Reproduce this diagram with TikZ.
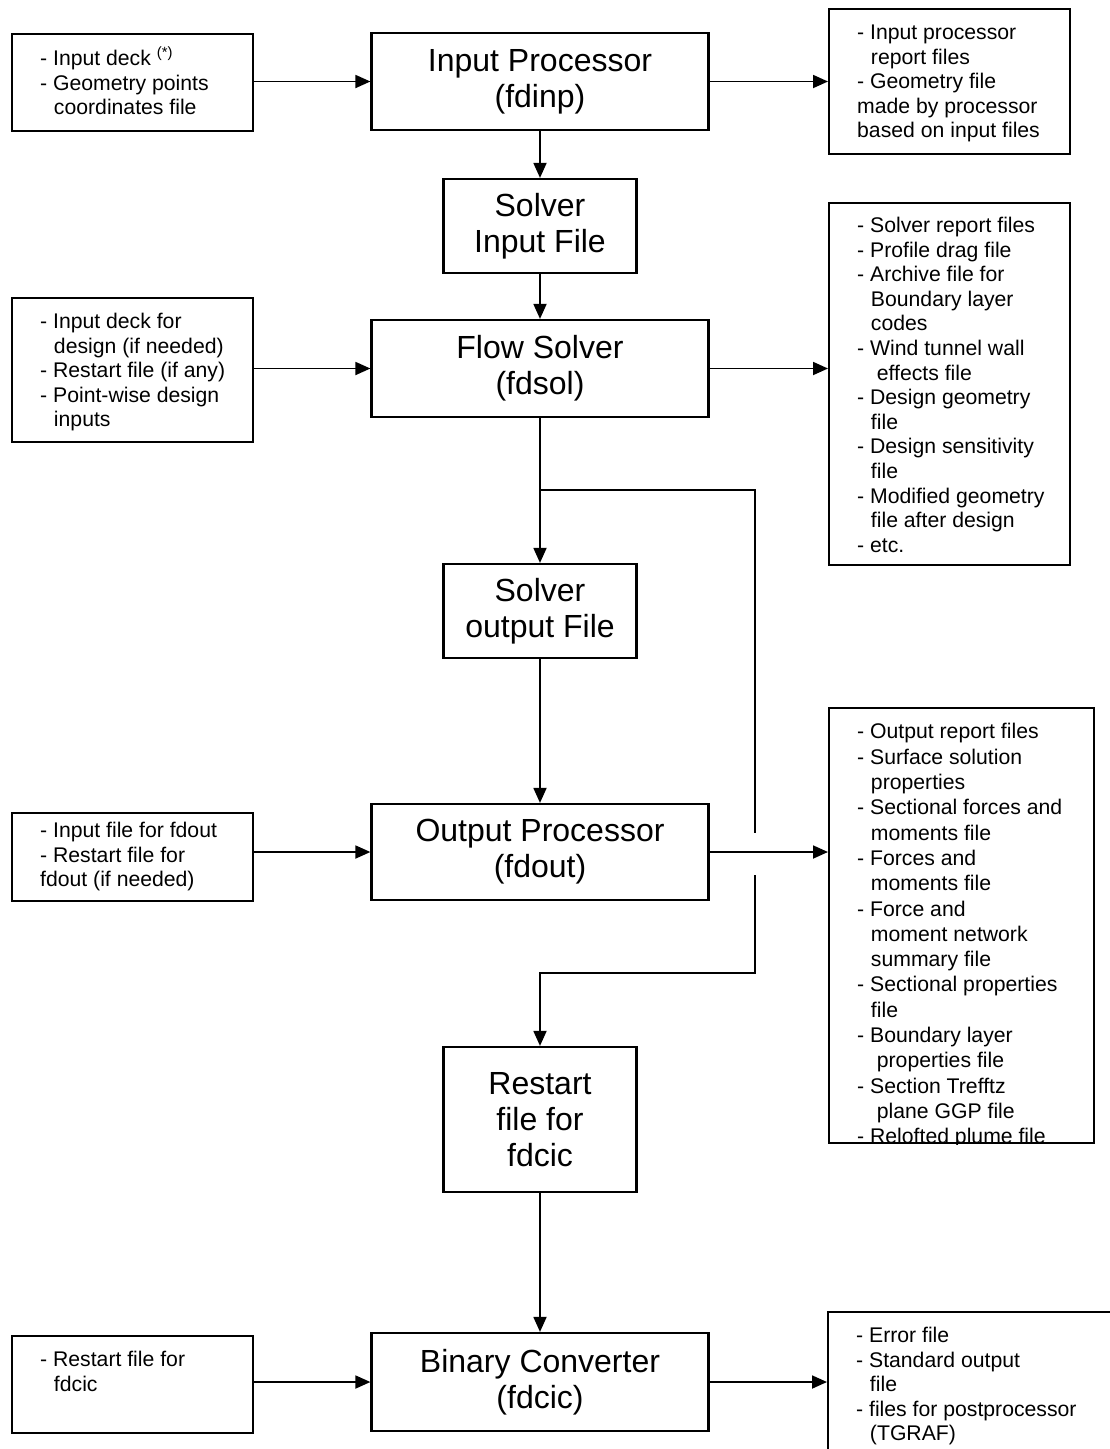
\documentclass[tikz,border=0pt]{standalone}
\usepackage{fontspec}
\setmainfont{Liberation Sans}
\usepackage{tikz}
\usetikzlibrary{arrows.meta}

\newcommand{\ind}{\hspace*{0.65em}}

\begin{document}
\begin{tikzpicture}[x=1pt,y=-1pt]
    \tikzstyle{every node}=[font=\fontsize{21.2}{24.6}\selectfont]
    \tikzstyle{mainbox}=[draw, line width=2.2pt, inner sep=0pt, align=center, font=\fontsize{32}{36}\selectfont]
    \tikzstyle{filebox}=[draw, line width=2.2pt, inner sep=0pt, anchor=north west]
    \tikzstyle{filetext}=[inner sep=0pt, anchor=north west, align=left]
    \tikzstyle{flow}=[line width=1.8pt, -{Triangle[length=15pt,width=13pt]}]
    \tikzstyle{wire}=[line width=1.8pt]
    \useasboundingbox (0,0) rectangle (1109,1449);

    %Main column
    \node [mainbox, minimum width=337, minimum height=97] (inproc) at (540,81.5) {Input Processor\\(fdinp)};
    \node [mainbox, minimum width=193, minimum height=94] (sinp) at (540,226) {Solver\\Input File};
    \node [mainbox, minimum width=337, minimum height=97] (fsol) at (540,368.5) {Flow Solver\\(fdsol)};
    \node [mainbox, minimum width=193, minimum height=94] (sout) at (540,611) {Solver\\output File};
    \node [mainbox, minimum width=337, minimum height=96] (oproc) at (540,852) {Output Processor\\(fdout)};
    \node [mainbox, minimum width=193, minimum height=145] (rst) at (540,1119.5) {Restart\\file for\\fdcic};
    \node [mainbox, minimum width=337, minimum height=98] (bconv) at (540,1382) {Binary Converter\\(fdcic)};

    %Input files (left)
    \node [filebox, minimum width=241, minimum height=97] (deck) at (11,33) {};
    \node [filetext] (decktxt) at ([xshift=29pt,yshift=-14pt]deck.north west)
        {\strut- Input deck \textsuperscript{(*)}\\- Geometry points\\\ind coordinates file};
    \node [filebox, minimum width=241, minimum height=144] (dsgn) at (11,297) {};
    \node [filetext] (dsgntxt) at ([xshift=29pt,yshift=-14pt]dsgn.north west)
        {\strut- Input deck for\\\ind design (if needed)\\- Restart file (if any)\\- Point-wise design\\\ind inputs};
    \node [filebox, minimum width=241, minimum height=88] (outin) at (11,812) {};
    \node [filetext] (outintxt) at ([xshift=29pt,yshift=-8pt]outin.north west)
        {\strut- Input file for fdout\\- Restart file for\\fdout (if needed)};
    \node [filebox, minimum width=241, minimum height=97] (cicin) at (11,1335) {};
    \node [filetext] (cicintxt) at ([xshift=29pt,yshift=-14pt]cicin.north west)
        {\strut- Restart file for\\\ind fdcic};

    %Output files (right)
    \node [filebox, minimum width=241, minimum height=145] (rep1) at (828,8) {};
    \node [filetext] (rep1txt) at ([xshift=29pt,yshift=-14pt]rep1.north west)
        {\strut- Input processor\\\ind report files\\- Geometry file\\made by processor\\based on input files};
    \node [filebox, minimum width=241, minimum height=362] (rep2) at (828,202) {};
    \node [filetext] (rep2txt) at ([xshift=29pt,yshift=-13pt]rep2.north west)
        {\strut- Solver report files\\- Profile drag file\\- Archive file for\\\ind Boundary layer\\\ind codes\\
         - Wind tunnel wall\\\ind\ effects file\\- Design geometry\\\ind file\\- Design sensitivity\\\ind file\\
         - Modified geometry\\\ind file after design\\- etc.};
    \node [filebox, minimum width=265, minimum height=435] (rep3) at (828,707) {};
    \begin{scope}
        \clip (rep3.south west) rectangle (rep3.north east);
        \node [filetext, font=\fontsize{21.2}{25.3}\selectfont] (rep3txt) at ([xshift=29pt,yshift=-14pt]rep3.north west)
            {\strut- Output report files\\- Surface solution\\\ind properties\\- Sectional forces and\\\ind moments file\\
             - Forces and\\\ind moments file\\- Force and\\\ind moment network\\\ind summary file\\
             - Sectional properties\\\ind file\\- Boundary layer\\\ind\ properties file\\- Section Trefftz\\
             \ind\ plane GGP file\\- Relofted plume file};
    \end{scope}
    \node [filebox, minimum width=300, minimum height=160] (rep4) at (827,1311) {};
    \node [filetext] (rep4txt) at ([xshift=29pt,yshift=-14pt]rep4.north west)
        {\strut- Error file\\- Standard output\\\ind file\\- files for postprocessor\\\ind (TGRAF)};

    %Connectors
    \draw [flow] (deck.east |- inproc) -- (inproc.west);
    \draw [flow] (inproc.east) -- (inproc.east -| rep1.west);
    \draw [flow] (inproc) -- (sinp);
    \draw [flow] (sinp) -- (fsol);
    \draw [flow] (dsgn.east |- fsol) -- (fsol.west);
    \draw [flow] (fsol.east) -- (fsol.east -| rep2.west);
    \draw [flow] (fsol) -- (sout);
    \draw [flow] (sout) -- (oproc);
    \draw [flow] (outin.east |- oproc) -- (oproc.west);
    \draw [flow] (oproc.east) -- (oproc.east -| rep3.west);
    \draw [flow] (rst) -- (bconv);
    \draw [flow] (cicin.east |- bconv) -- (bconv.west);
    \draw [flow] (bconv.east) -- (bconv.east -| rep4.west);

    %Restart branch, crossing the fdout output line
    \coordinate (split) at (540,490);
    \coordinate (bendA) at (755,490);
    \coordinate (gapA) at (755,833);
    \coordinate (gapB) at (755,875);
    \coordinate (bendB) at (755,973);
    \coordinate (bendC) at (540,973);
    \draw [wire] (split) -- (bendA) -- (gapA);
    \draw [flow] (gapB) -- (bendB) -- (bendC) -- (rst);
\end{tikzpicture}
\end{document}
